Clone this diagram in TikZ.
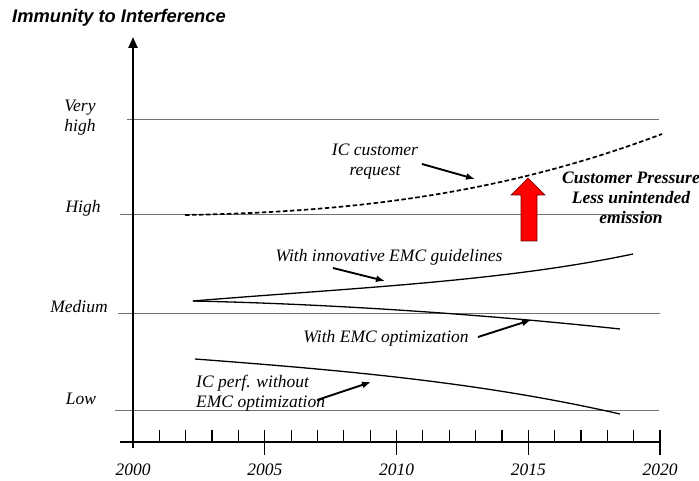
\documentclass[tikz,border=0pt]{standalone}
\usepackage{fontspec}
\setmainfont{Liberation Serif}
\newfontfamily\titlefont{Liberation Sans}
\usetikzlibrary{arrows.meta}
\begin{document}
\begin{tikzpicture}[x=1pt,y=-1pt,
  lbl/.style={font=\fontsize{17.5}{20}\selectfont\itshape, inner sep=0pt, align=center},
  lblbold/.style={font=\fontsize{17.5}{20}\selectfont\bfseries\itshape, inner sep=0pt, align=center},
  levelline/.style={draw=black!55, line width=1pt},
  yaxis/.style={line width=2.4pt},
  xaxis/.style={line width=1.3pt},
  curve/.style={line width=1.3pt},
  pointer/.style={line width=1.9pt, -{Latex[length=9pt,width=7pt]}},
  tickmark/.style={line width=1.2pt}]
\useasboundingbox (0,0) rectangle (699,481);

% title
\node[anchor=west, inner sep=0pt, font=\titlefont\fontsize{18.3}{20}\selectfont\bfseries\itshape] (title) at (12,18) {Immunity to Interference};

% level lines
\draw[levelline] (127,120) -- (659,120);
\draw[levelline] (120,215) -- (659,215);
\draw[levelline] (118,313) -- (660,313);
\draw[levelline] (115,410) -- (659,410);

% level labels
\node[lbl] (vh) at (80,118) {Very\\high};
\node[lbl] (hi) at (83,208) {High};
\node[lbl] (me) at (79,307) {Medium};
\node[lbl] (lo) at (81,399) {Low};

% axes
\coordinate (ybot) at (133,448);
\coordinate (ytop) at (133,37);
\coordinate (xleft) at (120,442);
\coordinate (xright) at (660,442);
\draw[xaxis] (xleft) -- (xright);
\draw[yaxis, -{Triangle[length=11pt,width=9pt]}] (ybot) -- (ytop);

% ticks
\foreach \i in {1,...,19} {
  \pgfmathsetmacro{\xx}{133+\i*26.35}
  \draw[tickmark] (\xx,430) -- (\xx,442);
}
\foreach \i/\yr in {0/2000,5/2005,10/2010,15/2015,20/2020} {
  \pgfmathsetmacro{\xx}{133+\i*26.35}
  \ifnum\i>0 \draw[tickmark] (\xx,430) -- (\xx,455); \fi
  \node[lbl] (y\yr) at (\xx,470) {\yr};
}

% IC customer request (dashed)
\draw[curve, dash pattern=on 4.5pt off 2.5pt, line width=1.7pt]
  (185,215) .. controls (350,212) and (500,195) .. (662,134);

% innovative EMC guidelines
\draw[curve] (193,301) .. controls (350,288) and (500,282) .. (633,254);
% EMC optimization
\draw[curve] (193,301) .. controls (330,304) and (480,314) .. (620,329);
% without EMC optimization
\draw[curve] (195,359) .. controls (340,370) and (480,382) .. (620,414);

% red arrow
\draw[fill=red, draw=red!45!black, line width=0.6pt]
  (521,241) -- (521,195) -- (511,195) -- (528,178) -- (545,195) -- (537,195) -- (537,241) -- cycle;

% labels
\node[lbl] (req) at (375,162) {IC customer\\request};
\node[lblbold] (press) at (631,198) {Customer Pressure\\Less unintended\\emission};
\node[lbl] (innov) at (389,257) {With innovative EMC guidelines};
\node[lbl] (opt) at (386,338) {With EMC optimization};
\node[lbl, align=left, anchor=west] (perf) at (196,393) {IC perf. without\\EMC optimization};

% pointers
\coordinate (reqA) at (422,164);
\coordinate (reqB) at (475,179);
\coordinate (innA) at (333,268);
\coordinate (innB) at (385,281);
\coordinate (optA) at (478,337);
\coordinate (optB) at (531,320);
\coordinate (perfA) at (317,400);
\coordinate (perfB) at (371,382);
\draw[pointer] (reqA) -- (reqB);
\draw[pointer] (innA) -- (innB);
\draw[pointer] (optA) -- (optB);
\draw[pointer] (perfA) -- (perfB);
\end{tikzpicture}
\end{document}
